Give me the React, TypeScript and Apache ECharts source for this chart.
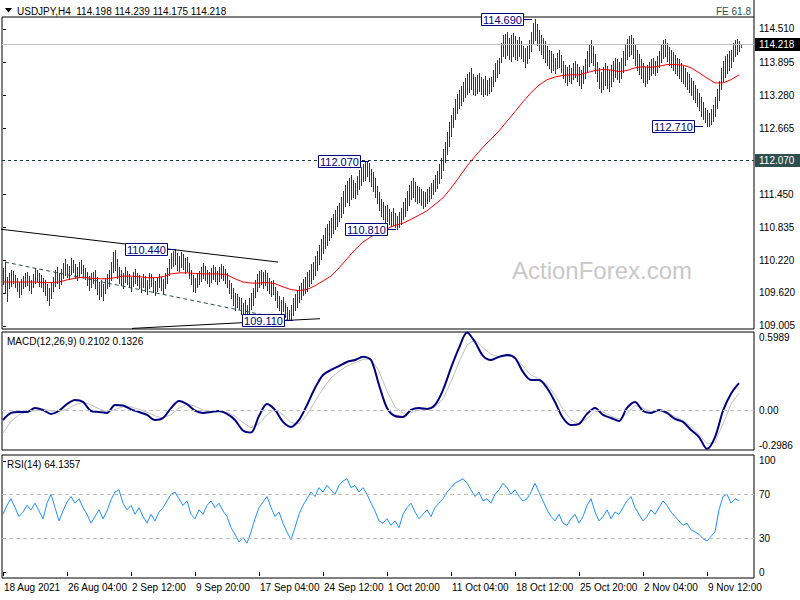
import React, { useEffect, useRef } from "react";
import * as echarts from "echarts";

// ---------- data ----------
const barLows = [
  109.78, 109.62, 109.47, 109.70, 109.74, 109.80, 109.72, 109.66, 109.55, 109.60,
  109.70, 109.74, 109.76, 109.68, 109.62, 109.72, 109.80, 109.84, 109.75, 109.73,
  109.65, 109.58, 109.48, 109.40, 109.52, 109.66, 109.75, 109.80, 109.70, 109.78,
  109.90, 109.95, 109.92, 109.88, 109.97, 110.00, 109.90, 109.86, 109.92, 109.98,
  109.94, 109.88, 109.76, 109.68, 109.72, 109.80, 109.70, 109.60, 109.50, 109.56,
  109.48, 109.62, 109.70, 109.74, 109.85, 110.00, 110.05, 109.90, 109.80, 109.76,
  109.70, 109.82, 109.78, 109.72, 109.66, 109.74, 109.80, 109.76, 109.70, 109.64,
  109.72, 109.66, 109.60, 109.70, 109.74, 109.64, 109.58, 109.66, 109.72, 109.68,
  109.62, 109.70, 109.80, 109.95, 110.08, 110.12, 110.15, 110.05, 110.02, 110.10,
  110.06, 109.98, 110.02, 109.90, 109.78, 109.66, 109.64, 109.72, 109.78, 109.84,
  109.90, 109.86, 109.80, 109.75, 109.82, 109.88, 109.84, 109.78, 109.83, 109.90,
  109.86, 109.80, 109.73, 109.62, 109.52, 109.40, 109.30, 109.36, 109.32, 109.22,
  109.12, 109.16, 109.11, 109.20, 109.32, 109.40, 109.55, 109.66, 109.72, 109.78,
  109.70, 109.76, 109.68, 109.62, 109.56, 109.60, 109.48, 109.36, 109.30, 109.22,
  109.28, 109.18, 109.12, 109.11, 109.11, 109.20, 109.30, 109.36, 109.45, 109.50,
  109.58, 109.62, 109.66, 109.75, 109.80, 109.88, 109.95, 110.05, 110.15, 110.25,
  110.35, 110.45, 110.50, 110.60, 110.66, 110.72, 110.80, 110.85, 110.95, 111.02,
  111.10, 111.22, 111.30, 111.25, 111.35, 111.40, 111.38, 111.45, 111.55, 111.62,
  111.70, 111.72, 111.78, 111.70, 111.60, 111.50, 111.40, 111.28, 111.15, 111.05,
  110.98, 110.92, 110.95, 110.90, 110.86, 110.88, 110.84, 110.81, 110.84, 110.90,
  110.98, 111.05, 111.15, 111.25, 111.35, 111.40, 111.32, 111.28, 111.30, 111.25,
  111.20, 111.22, 111.28, 111.32, 111.38, 111.45, 111.50, 111.56, 111.65, 111.75,
  111.90, 112.05, 112.20, 112.35, 112.52, 112.70, 112.85, 112.95, 113.05, 113.10,
  113.18, 113.25, 113.30, 113.35, 113.40, 113.30, 113.28, 113.33, 113.36, 113.30,
  113.26, 113.30, 113.28, 113.32, 113.36, 113.45, 113.55, 113.62, 113.70, 113.90,
  114.00, 113.98, 114.02, 113.95, 113.92, 114.00, 113.96, 113.94, 114.00, 113.98,
  113.92, 113.80, 113.88, 113.98, 114.10, 114.25, 114.30, 114.22, 114.12, 114.05,
  113.98, 113.90, 113.85, 113.78, 113.72, 113.75, 113.70, 113.78, 113.80, 113.72,
  113.60, 113.52, 113.48, 113.55, 113.50, 113.58, 113.62, 113.55, 113.48, 113.42,
  113.50, 113.60, 113.72, 113.82, 113.90, 113.85, 113.70, 113.55, 113.42, 113.35,
  113.40, 113.48, 113.42, 113.36, 113.45, 113.55, 113.62, 113.58, 113.52, 113.60,
  113.72, 113.85, 113.95, 114.00, 114.05, 113.98, 113.85, 113.75, 113.68, 113.60,
  113.52, 113.45, 113.50, 113.58, 113.65, 113.70, 113.66, 113.72, 113.80, 113.90,
  113.98, 114.00, 113.92, 113.85, 113.80, 113.75, 113.70, 113.66, 113.60, 113.55,
  113.50, 113.45, 113.40, 113.35, 113.28, 113.22, 113.15, 113.08, 113.00, 112.90,
  112.85, 112.78, 112.72, 112.71, 112.75, 112.80, 112.90, 113.05, 113.20, 113.40,
  113.55, 113.62, 113.70, 113.75, 113.80, 113.92, 114.00, 114.05, 114.10, 114.175,
];
const barHighs = [
  110.08, 110.19, 109.92, 109.98, 110.05, 110.02, 109.95, 109.90, 109.82, 109.88,
  109.93, 109.98, 110.00, 109.94, 109.86, 109.97, 110.08, 110.05, 109.98, 109.95,
  109.90, 109.85, 109.78, 109.70, 109.80, 109.92, 110.04, 110.10, 109.98, 110.06,
  110.18, 110.25, 110.16, 110.12, 110.27, 110.22, 110.15, 110.10, 110.20, 110.23,
  110.14, 110.08, 110.00, 109.94, 109.98, 110.01, 110.04, 109.92, 109.82, 109.86,
  109.78, 109.90, 109.96, 110.05, 110.20, 110.38, 110.41, 110.25, 110.10, 110.05,
  109.98, 110.10, 110.02, 109.96, 109.92, 110.00, 110.06, 109.98, 109.95, 109.90,
  109.97, 109.94, 109.86, 109.99, 109.96, 109.90, 109.84, 109.92, 109.97, 109.92,
  109.88, 109.98, 110.08, 110.25, 110.36, 110.40, 110.44, 110.35, 110.30, 110.38,
  110.33, 110.26, 110.28, 110.18, 110.04, 109.95, 109.90, 109.98, 110.02, 110.10,
  110.17, 110.12, 110.05, 110.00, 110.08, 110.14, 110.10, 110.03, 110.09, 110.16,
  110.12, 110.06, 109.98, 109.86, 109.80, 109.70, 109.62, 109.60, 109.55, 109.52,
  109.44, 109.48, 109.40, 109.52, 109.62, 109.70, 109.85, 109.96, 110.02, 110.04,
  110.00, 110.04, 109.98, 109.90, 109.84, 109.86, 109.73, 109.66, 109.56, 109.48,
  109.54, 109.44, 109.36, 109.30, 109.40, 109.52, 109.60, 109.68, 109.75, 109.80,
  109.88, 109.92, 110.00, 110.05, 110.15, 110.20, 110.30, 110.40, 110.50, 110.62,
  110.70, 110.82, 110.90, 110.95, 111.00, 111.08, 111.15, 111.22, 111.28, 111.40,
  111.50, 111.62, 111.70, 111.75, 111.80, 111.72, 111.66, 111.78, 111.90, 111.96,
  112.00, 112.04, 112.07, 112.02, 111.92, 111.85, 111.75, 111.60, 111.48, 111.35,
  111.30, 111.22, 111.25, 111.18, 111.12, 111.20, 111.10, 111.05, 111.12, 111.20,
  111.30, 111.38, 111.50, 111.62, 111.70, 111.75, 111.68, 111.60, 111.58, 111.55,
  111.50, 111.48, 111.54, 111.58, 111.65, 111.72, 111.80, 111.88, 112.00, 112.12,
  112.28, 112.42, 112.60, 112.78, 112.92, 113.05, 113.22, 113.30, 113.38, 113.45,
  113.52, 113.60, 113.68, 113.72, 113.78, 113.68, 113.62, 113.66, 113.70, 113.62,
  113.58, 113.64, 113.56, 113.60, 113.62, 113.75, 113.88, 113.94, 113.98, 114.25,
  114.40, 114.42, 114.45, 114.35, 114.40, 114.44, 114.38, 114.30, 114.36, 114.28,
  114.20, 114.15, 114.20, 114.30, 114.45, 114.62, 114.69, 114.60, 114.50, 114.40,
  114.35, 114.28, 114.20, 114.12, 114.10, 114.05, 113.98, 114.06, 114.12, 114.02,
  113.92, 113.85, 113.80, 113.84, 113.78, 113.88, 113.92, 113.86, 113.80, 113.75,
  113.82, 113.95, 114.10, 114.22, 114.30, 114.20, 114.05, 113.90, 113.78, 113.72,
  113.80, 113.88, 113.82, 113.75, 113.85, 113.92, 113.98, 113.96, 113.90, 113.98,
  114.10, 114.22, 114.32, 114.38, 114.40, 114.35, 114.22, 114.12, 114.05, 113.95,
  113.88, 113.80, 113.85, 113.90, 113.95, 113.98, 113.92, 114.00, 114.10, 114.22,
  114.30, 114.32, 114.25, 114.18, 114.12, 114.08, 114.02, 113.98, 113.95, 113.88,
  113.82, 113.78, 113.72, 113.68, 113.60, 113.55, 113.48, 113.40, 113.32, 113.25,
  113.15, 113.05, 113.00, 112.95, 113.02, 113.10, 113.25, 113.40, 113.55, 113.78,
  113.92, 114.00, 114.05, 114.10, 114.12, 114.25, 114.30, 114.32, 114.28, 114.239,
];
// red moving average, one value every 4 bars
const maValues = [
  109.82, 109.82, 109.82, 109.82, 109.82, 109.81, 109.81, 109.82, 109.86, 109.89,
  109.91, 109.89, 109.88, 109.88, 109.90, 109.93, 109.93, 109.92, 109.90, 109.90,
  109.92, 109.97, 109.99, 109.99, 109.98, 109.97, 109.97, 109.97, 109.95, 109.88,
  109.82, 109.80, 109.80, 109.81, 109.79, 109.73, 109.68, 109.66, 109.68, 109.75,
  109.84, 109.93, 110.08, 110.25, 110.42, 110.56, 110.66, 110.74, 110.81, 110.87,
  110.91, 110.98, 111.06, 111.14, 111.26, 111.38, 111.56, 111.76, 111.97, 112.15,
  112.32, 112.47, 112.62, 112.80, 112.98, 113.16, 113.33, 113.47, 113.57, 113.62,
  113.65, 113.66, 113.66, 113.70, 113.74, 113.76, 113.75, 113.72, 113.74, 113.79,
  113.81, 113.80, 113.82, 113.85, 113.85, 113.84, 113.79, 113.70, 113.60, 113.51,
  113.51, 113.57, 113.66,
];
const maStep = 4;
// MACD main and signal, one value every 4 bars
const macdValues = [
  -0.07, -0.017, -0.009, -0.009, 0.021, 0.006, -0.024, 0.0, 0.051, 0.082,
  0.067, -0.002, -0.009, -0.017, 0.044, 0.04, 0.01, -0.01, -0.032, -0.07,
  -0.055, 0.02, 0.075, 0.05, 0.0, -0.017, -0.009, -0.002, -0.024, -0.07,
  -0.15, -0.165, -0.04, 0.051, 0.006, -0.085, -0.123, -0.07, 0.044, 0.173,
  0.272, 0.31, 0.34, 0.371, 0.386, 0.41, 0.386, 0.196, 0.021, -0.04,
  -0.047, 0.006, 0.021, 0.014, 0.044, 0.158, 0.326, 0.478, 0.595, 0.523,
  0.417, 0.386, 0.41, 0.424, 0.40, 0.295, 0.234, 0.234, 0.173, 0.067,
  -0.055, -0.108, -0.10, -0.024, 0.021, -0.032, -0.055, -0.078, 0.021, 0.067,
  -0.002, -0.017, 0.006, -0.017, -0.062, -0.085, -0.146, -0.2, -0.29, -0.2,
  0.0, 0.13, 0.2102,
];
const signalValues = [
  -0.17, -0.08, -0.03, -0.01, 0.0, 0.01, 0.0, -0.005, 0.01, 0.045,
  0.065, 0.045, 0.015, -0.005, 0.01, 0.03, 0.03, 0.01, -0.01, -0.04,
  -0.055, -0.03, 0.02, 0.05, 0.035, 0.005, -0.01, -0.008, -0.012, -0.04,
  -0.09, -0.13, -0.1, -0.03, 0.01, -0.03, -0.09, -0.1, -0.03, 0.07,
  0.17, 0.25, 0.3, 0.34, 0.365, 0.39, 0.395, 0.3, 0.15, 0.03,
  -0.02, -0.015, 0.005, 0.012, 0.03, 0.09, 0.22, 0.37, 0.5, 0.54,
  0.48, 0.43, 0.41, 0.415, 0.41, 0.34, 0.27, 0.245, 0.2, 0.12,
  0.01, -0.07, -0.1, -0.06, -0.005, -0.01, -0.04, -0.065, -0.02, 0.04,
  0.02, -0.005, 0.0, -0.01, -0.045, -0.075, -0.12, -0.18, -0.25, -0.24,
  -0.1, 0.05, 0.1326,
];
const macdStep = 4;
// RSI(14), one value every 2 bars
const rsiValues = [
  52, 60, 66, 58, 50, 54, 60, 56, 62, 55,
  48, 62, 70, 58, 46, 55, 63, 68, 62, 66,
  58, 52, 44, 50, 56, 48, 55, 65, 72, 74,
  62, 56, 60, 52, 58, 50, 44, 52, 46, 54,
  58, 64, 70, 72, 66, 60, 64, 52, 48, 56,
  52, 60, 64, 58, 62, 55, 50, 40, 34, 27,
  31, 26, 36, 48, 58, 63, 68, 58, 50, 54,
  44, 36, 29, 40, 52, 60, 66, 72, 68, 76,
  72, 78, 74, 70, 78, 82, 84, 76, 78, 72,
  76, 70, 62, 55, 46, 44, 48, 42, 46, 40,
  52, 58, 62, 54, 48, 52, 56, 50, 58, 62,
  66, 72, 76, 80, 82, 84, 80, 74, 68, 72,
  64, 66, 62, 70, 74, 80, 76, 70, 74, 68,
  64, 66, 72, 80, 72, 64, 56, 50, 46, 52,
  44, 42, 48, 52, 44, 50, 60, 66, 54, 46,
  50, 56, 48, 54, 52, 58, 64, 68, 58, 52,
  46, 50, 56, 52, 58, 64, 60, 54, 50, 46,
  42, 44, 38, 36, 34, 30, 28, 32, 36, 56,
  68, 70, 62, 66, 64.1357,
];
const rsiStep = 2;

const xTickIdx = [0, 32, 64, 96, 128, 160, 192, 224, 256, 288, 320, 352];
const xTickLabels = [
  "18 Aug 2021", "26 Aug 04:00", "2 Sep 12:00", "9 Sep 20:00", "17 Sep 04:00", "24 Sep 12:00",
  "1 Oct 20:00", "11 Oct 04:00", "18 Oct 12:00", "25 Oct 20:00", "2 Nov 04:00", "9 Nov 12:00",
];
const priceTicks = [114.51, 113.895, 113.28, 112.665, 111.45, 110.835, 110.22, 109.62, 109.005];
const priceMin = 108.949;
const priceMax = 114.732;
const bidPrice = 114.218;
const levelPrice = 112.07;
const macdTop = 0.5989;
const macdBottom = -0.2986;
const macdLevels = [0];
const rsiTicks = [100, 70, 30, 0];
const rsiLevels = [70, 30];

const calloutIdx = [264.5, 183, 196.5, 86.5, 145, 350];
const calloutPrice = [114.69, 112.07, 110.81, 110.44, 109.11, 112.71];
const calloutText = ["114.690", "112.070", "110.810", "110.440", "109.110", "112.710"];

const trendUpper = [[-1.5, 110.8], [137.5, 110.19]];
const trendDashed = [[1, 110.19], [142, 109.12]];
const trendLower = [[64.5, 108.96], [158.5, 109.14]];

const titleText = "USDJPY,H4  114.198 114.239 114.175 114.218";
const macdTitle = "MACD(12,26,9) 0.2102 0.1326";
const rsiTitle = "RSI(14) 64.1357";
const feText = "FE 61.8";
const watermark = "ActionForex.com";

// ---------- style ----------
const FONT = '"Liberation Sans", Arial, sans-serif';
const FS = 10;
const BAR = "#143f58";
const NAVY = "#000080";
const SLOTS = 376;

export default function App() {
  const ref = useRef<HTMLDivElement>(null);

  useEffect(() => {
    if (!ref.current) return;
    const chart = echarts.init(ref.current, null, { renderer: "svg" });

    const grids = [
      { left: 2, top: 17, width: 752, height: 312 },
      { left: 2, top: 332, width: 752, height: 118 },
      { left: 2, top: 455, width: 752, height: 123 },
    ];

    const xAxes = grids.map((_, gi) => ({
      type: "value",
      gridIndex: gi,
      min: -0.5,
      max: SLOTS - 0.5,
      axisLine: { show: false },
      splitLine: { show: false },
      axisTick:
        gi === 2
          ? { show: true, customValues: xTickIdx, length: 4, lineStyle: { color: "#000" } }
          : { show: false },
      axisLabel:
        gi === 2
          ? {
              show: true,
              customValues: xTickIdx,
              formatter: (v: number) => {
                const j = xTickIdx.indexOf(Math.round(v));
                return j >= 0 ? xTickLabels[j] : "";
              },
              align: "left",
              margin: 4,
              padding: [0, 0, 0, 1],
              fontSize: FS,
              fontFamily: FONT,
              color: "#000",
            }
          : { show: false },
    }));

    const yBase = (gi: number, min: number, max: number) => ({
      type: "value",
      gridIndex: gi,
      position: "right",
      min,
      max,
      axisLine: { show: false },
      splitLine: { show: false },
    });

    const yAxes = [
      {
        ...yBase(0, priceMin, priceMax),
        axisTick: { show: true, customValues: priceTicks, length: 3, lineStyle: { color: "#000" } },
        axisLabel: {
          customValues: priceTicks,
          formatter: (v: number) => v.toFixed(3),
          margin: 5,
          fontSize: FS,
          fontFamily: FONT,
          color: "#000",
        },
      },
      {
        ...yBase(1, macdBottom, macdTop),
        axisTick: { show: true, customValues: macdLevels, length: 3, lineStyle: { color: "#000" } },
        axisLabel: {
          customValues: macdLevels,
          formatter: (v: number) => v.toFixed(2),
          margin: 5,
          fontSize: FS,
          fontFamily: FONT,
          color: "#000",
        },
      },
      {
        ...yBase(1, macdBottom, macdTop),
        axisTick: { show: false },
        axisLabel: {
          customValues: [macdTop],
          showMaxLabel: true,
          formatter: (v: number) => v.toFixed(4),
          verticalAlign: "top",
          margin: 5,
          fontSize: FS,
          fontFamily: FONT,
          color: "#000",
        },
      },
      {
        ...yBase(1, macdBottom, macdTop),
        axisTick: { show: false },
        axisLabel: {
          customValues: [macdBottom],
          showMinLabel: true,
          formatter: (v: number) => v.toFixed(4),
          verticalAlign: "bottom",
          margin: 5,
          fontSize: FS,
          fontFamily: FONT,
          color: "#000",
        },
      },
      {
        ...yBase(2, -5.4, 105.4),
        axisTick: { show: true, customValues: rsiTicks, length: 3, lineStyle: { color: "#000" } },
        axisLabel: {
          customValues: rsiTicks,
          showMinLabel: true,
          showMaxLabel: true,
          formatter: (v: number) => String(Math.round(v)),
          margin: 5,
          fontSize: FS,
          fontFamily: FONT,
          color: "#000",
        },
      },
    ];

    const hLabel = (bg: string, value: number) => ({
      show: true,
      position: "end",
      distance: 1,
      formatter: () => value.toFixed(3),
      color: "#fff",
      backgroundColor: bg,
      padding: [2, 10, 1, 4],
      fontSize: FS,
      fontFamily: FONT,
    });

    const option: any = {
      animation: false,
      backgroundColor: "#fff",
      grid: grids.map((g) => ({ ...g, show: true, borderColor: "#000", borderWidth: 1, backgroundColor: "#fff" })),
      xAxis: xAxes,
      yAxis: yAxes,
      series: [
        // price bars (high-low lines)
        {
          type: "custom",
          xAxisIndex: 0,
          yAxisIndex: 0,
          silent: true,
          z: 2,
          data: barLows.map((lo, i) => [i, lo, barHighs[i]]),
          encode: { x: 0, y: [1, 2] },
          renderItem: (_p: any, api: any) => {
            const a = api.coord([api.value(0), api.value(1)]);
            const b = api.coord([api.value(0), api.value(2)]);
            const px = Math.floor(a[0]);
            const top = Math.round(b[1]);
            const bot = Math.round(a[1]);
            return {
              type: "rect",
              shape: { x: px, y: top, width: 1, height: Math.max(1, bot - top + 1) },
              style: { fill: BAR },
            };
          },
        },
        // trend lines
        {
          type: "line", xAxisIndex: 0, yAxisIndex: 0, data: trendUpper, symbol: "none", silent: true, z: 3,
          lineStyle: { color: "#000", width: 1 },
        },
        {
          type: "line", xAxisIndex: 0, yAxisIndex: 0, data: trendLower, symbol: "none", silent: true, z: 3,
          lineStyle: { color: "#000", width: 1 },
        },
        {
          type: "line", xAxisIndex: 0, yAxisIndex: 0, data: trendDashed, symbol: "none", silent: true, z: 3,
          lineStyle: { color: "#2f4f4f", width: 1, type: [4, 3] },
        },
        // moving average + horizontal lines
        {
          type: "line",
          xAxisIndex: 0,
          yAxisIndex: 0,
          data: maValues.map((v, k) => [k * maStep, v]),
          symbol: "none",
          silent: true,
          z: 4,
          lineStyle: { color: "#ff0000", width: 1 },
          markLine: {
            silent: true,
            symbol: ["none", "none"],
            animation: false,
            data: [
              { yAxis: bidPrice, lineStyle: { color: "#c0c0c0", type: "solid", width: 1 }, label: hLabel("#000", bidPrice) },
              { yAxis: levelPrice, lineStyle: { color: "#1f3a3a", type: [3, 3], width: 1 }, label: hLabel("#2f4f4f", levelPrice) },
            ],
          },
        },
        // callouts
        {
          type: "custom",
          xAxisIndex: 0,
          yAxisIndex: 0,
          silent: true,
          clip: false,
          z: 10,
          data: calloutIdx.map((x, j) => [x, calloutPrice[j]]),
          encode: { x: 0, y: 1 },
          renderItem: (params: any, api: any) => {
            const j = params.dataIndex;
            const p = api.coord([api.value(0), api.value(1)]);
            const w = 42;
            const h = 12;
            const gap = 9;
            const cy = Math.round(p[1]);
            const rx = Math.round(p[0]) - gap - w;
            const ry = cy - h / 2;
            return {
              type: "group",
              children: [
                { type: "line", shape: { x1: rx + w, y1: cy + 0.5, x2: Math.round(p[0]), y2: cy + 0.5 }, style: { stroke: NAVY, lineWidth: 1 } },
                { type: "rect", shape: { x: rx + 0.5, y: ry + 0.5, width: w, height: h }, style: { fill: "#fff", stroke: NAVY, lineWidth: 1 } },
                {
                  type: "text",
                  x: rx + w / 2 + 0.5,
                  y: cy + 1,
                  style: { text: calloutText[j], fill: NAVY, font: `11px ${FONT}`, align: "center", verticalAlign: "middle" },
                },
              ],
            };
          },
        },
        // MACD
        {
          type: "line",
          xAxisIndex: 1,
          yAxisIndex: 1,
          data: signalValues.map((v, k) => [k * macdStep, v]),
          symbol: "none",
          silent: true,
          z: 3,
          lineStyle: { color: "#c0c0c0", width: 1 },
          markLine: {
            silent: true,
            symbol: ["none", "none"],
            label: { show: false },
            lineStyle: { color: "#c0c0c0", type: [4, 3], width: 1 },
            data: macdLevels.map((v) => ({ yAxis: v })),
          },
        },
        {
          type: "line",
          xAxisIndex: 1,
          yAxisIndex: 1,
          data: macdValues.map((v, k) => [k * macdStep, v]),
          symbol: "none",
          silent: true,
          smooth: 0.3,
          z: 4,
          lineStyle: { color: NAVY, width: 2 },
        },
        // RSI
        {
          type: "line",
          xAxisIndex: 2,
          yAxisIndex: 4,
          data: rsiValues.map((v, k) => [k * rsiStep, v]),
          symbol: "none",
          silent: true,
          z: 4,
          lineStyle: { color: "#1e90ff", width: 1 },
          markLine: {
            silent: true,
            symbol: ["none", "none"],
            label: { show: false },
            lineStyle: { color: "#c0c0c0", type: [4, 3], width: 1 },
            data: rsiLevels.map((v) => ({ yAxis: v })),
          },
        },
      ],
      graphic: [
        { type: "polygon", shape: { points: [[5, 8], [12, 8], [8.5, 12.5]] }, style: { fill: "#000" } },
        { type: "text", x: 17, y: 11, style: { text: titleText, fill: "#000", font: `${FS}px ${FONT}`, verticalAlign: "middle" } },
        { type: "text", x: 751, y: 11, style: { text: feText, fill: "#2f4f4f", font: `${FS}px ${FONT}`, align: "right", verticalAlign: "middle" } },
        { type: "line", shape: { x1: 754, y1: 0, x2: 754, y2: 17 }, style: { stroke: "#000", lineWidth: 1 } },
        { type: "text", x: 7, y: 341, style: { text: macdTitle, fill: "#000", font: `${FS}px ${FONT}`, verticalAlign: "middle" } },
        { type: "text", x: 7, y: 464, style: { text: rsiTitle, fill: "#000", font: `${FS}px ${FONT}`, verticalAlign: "middle" } },
        { type: "text", x: 512, y: 270, z: 1, style: { text: watermark, fill: "#c8c8c8", font: `24px ${FONT}`, verticalAlign: "middle" } },
      ],
    };

    chart.setOption(option);
    return () => chart.dispose();
  }, []);

  return <div ref={ref} style={{ position: "fixed", left: 0, top: 0, width: 800, height: 600 }} />;
}
